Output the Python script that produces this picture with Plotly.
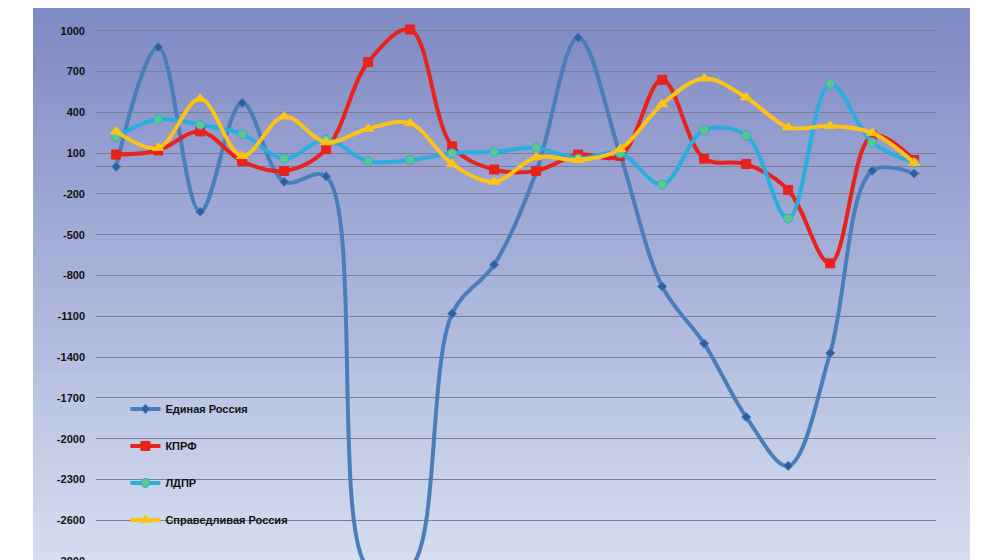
import plotly.graph_objects as go

# data
x = list(range(20))
er = [0, 880, -330, 470, -110, -70, -2950, -2950, -1080, -720, -40, 950, 90, -880, -1300, -1840, -2200, -1370, -30, -50]
kprf = [90, 120, 260, 40, -30, 130, 770, 1010, 150, -20, -30, 90, 80, 640, 60, 20, -170, -710, 230, 50]
ldpr = [220, 350, 310, 240, 60, 200, 40, 50, 100, 110, 140, 60, 100, -130, 270, 230, -380, 610, 180, 30]
sr = [260, 140, 500, 80, 370, 180, 280, 320, 20, -110, 70, 50, 130, 460, 650, 510, 290, 300, 250, 30]
names = ["Единая Россия", "КПРФ", "ЛДПР", "Справедливая Россия"]
ticks = list(range(-2900, 1001, 300))

series = [
    (er, "#4a7ebb", "diamond", "#2e5f9e", 7),
    (kprf, "#e8221c", "square", "#e8221c", 9),
    (ldpr, "#2aaee0", "circle", "#5cc88a", 9),
    (sr, "#fcc417", "triangle-up", "#fcc417", 10),
]

fig = go.Figure()
for i, (vals, col, sym, mcol, ms) in enumerate(series):
    fig.add_trace(go.Scatter(
        x=x, y=vals, name=f"<b>{names[i]}</b>", mode="lines+markers",
        line=dict(color=col, width=4, shape="spline", smoothing=1.0),
        marker=dict(symbol=sym, size=ms, color=mcol, line=dict(width=1, color=col)),
        legendgroup=str(i),
    ))

# gradient background panel
shapes = []
n = 40
top, bot = (128, 138, 196), (214, 222, 240)
px0, px1 = (25 - 88) / 840, (962 - 88) / 840
for k in range(n):
    t = k / (n - 1)
    c = tuple(int(top[j] + (bot[j] - top[j]) * t) for j in range(3))
    shapes.append(dict(type="rect", xref="paper", yref="paper", layer="below",
                       x0=px0, x1=px1, y0=1 - (k + 1) / n, y1=1 - k / n + 0.002,
                       line=dict(width=0), fillcolor="rgb(%d,%d,%d)" % c))

fig.update_layout(
    width=1000, height=560,
    margin=dict(l=88, r=72, t=0, b=0),
    paper_bgcolor="white", plot_bgcolor="rgba(0,0,0,0)",
    shapes=shapes,
    font=dict(family="Arial, Liberation Sans", size=11, color="#111"),
    showlegend=True,
    legend=dict(x=0.035, y=0.31, xanchor="left", yanchor="top", bgcolor="rgba(0,0,0,0)",
                tracegroupgap=18, font=dict(size=11, color="#111", family="Arial, Liberation Sans")),
    xaxis=dict(range=[-0.48, 19.52], showticklabels=False, showgrid=False, zeroline=False),
    yaxis=dict(range=[-2951, 1168], tickvals=ticks, ticktext=[f"<b>{v}</b>" for v in ticks],
               showgrid=True, gridcolor="#7a7f95", gridwidth=1, zeroline=True,
               zerolinecolor="#7a7f95", zerolinewidth=1, ticks="", ticklabelstandoff=10),
)
fig.write_html("out.html")
